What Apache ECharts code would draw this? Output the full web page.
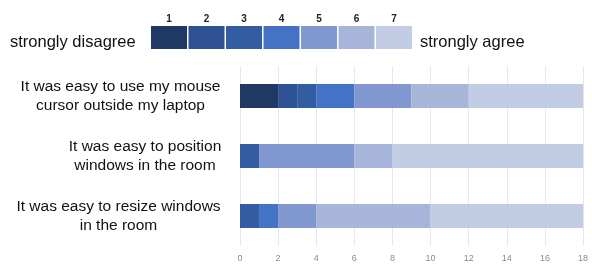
<!DOCTYPE html>
<html>
<head>
<meta charset="utf-8">
<script src="https://cdn.jsdelivr.net/npm/echarts@6.0.0/dist/echarts.min.js"></script>
<style>
  html, body { margin: 0; padding: 0; background: #fff; }
  #chart { width: 592px; height: 266px; }
</style>
</head>
<body>
<div id="chart"></div>
<script>
// preguntas (de arriba a abajo)
const categories = [
  'It was easy to use my mouse\ncursor outside my laptop',
  'It was easy to position\nwindows in the room',
  'It was easy to resize windows\nin the room'
];
// escala Likert 1..7
const levels = ['1', '2', '3', '4', '5', '6', '7'];
const s1 = [2, 0, 0];
const s2 = [1, 0, 0];
const s3 = [1, 1, 1];
const s4 = [2, 0, 1];
const s5 = [3, 5, 2];
const s6 = [3, 2, 6];
const s7 = [6, 10, 8];
const xTicks = [0, 2, 4, 6, 8, 10, 12, 14, 16, 18];

const values = [s1, s2, s3, s4, s5, s6, s7];
const colors = ['#1f3864', '#2e5293', '#345ca3', '#4472c4', '#8098cf', '#a8b5da', '#c2cce5'];
const font = '"Liberation Sans", Arial, sans-serif';

// ancho de cada etiqueta para centrar las dos líneas
const labelWidths = [203, 154, 207];

const chart = echarts.init(document.getElementById('chart'));

const option = {
  animation: false,
  color: colors,
  legend: {
    data: levels,
    left: 151,
    top: 26,
    icon: 'rect',
    itemWidth: 36,
    itemHeight: 23,
    itemGap: 1.5,
    formatter: () => '',
    selectedMode: false,
    padding: 0
  },
  graphic: [
    { type: 'text', left: 10, top: 34, style: { text: 'strongly disagree', font: '16.5px ' + font, fill: '#111' } },
    { type: 'text', left: 420, top: 34, style: { text: 'strongly agree', font: '16.5px ' + font, fill: '#111' } }
  ].concat(levels.map((l, i) => ({
    type: 'text',
    x: 151 + 18 + i * 37.5,
    y: 19,
    style: { text: l, font: 'bold 10px ' + font, fill: '#222', align: 'center', verticalAlign: 'middle' }
  }))),
  grid: { left: 240, right: 9, top: 66, bottom: 20 },
  xAxis: {
    type: 'value',
    min: 0,
    max: 18,
    interval: 2,
    axisLine: { show: false },
    axisTick: { show: false },
    splitLine: { lineStyle: { color: '#e8e8e8', width: 1 } },
    axisLabel: {
      color: '#8a8a8a',
      fontSize: 9,
      fontFamily: font,
      margin: 8,
      formatter: v => (xTicks.includes(v) ? String(v) : '')
    }
  },
  yAxis: {
    type: 'category',
    data: categories,
    inverse: true,
    axisLine: { show: false },
    axisTick: { show: false },
    axisLabel: {
      margin: 18,
      formatter: (v, i) => v.split('\n').map(t => '{r' + i + '|' + t + '}').join('\n'),
      rich: Object.fromEntries(labelWidths.map((w, i) => ['r' + i, {
        width: w, align: 'center', fontSize: 15.5, lineHeight: 19, color: '#111', fontFamily: font
      }]))
    }
  },
  series: levels.map((l, i) => ({
    name: l,
    type: 'bar',
    stack: 'total',
    barWidth: 24,
    data: values[i],
    itemStyle: { color: colors[i] }
  }))
};

chart.setOption(option);
window.addEventListener('resize', () => chart.resize());
</script>
</body>
</html>
